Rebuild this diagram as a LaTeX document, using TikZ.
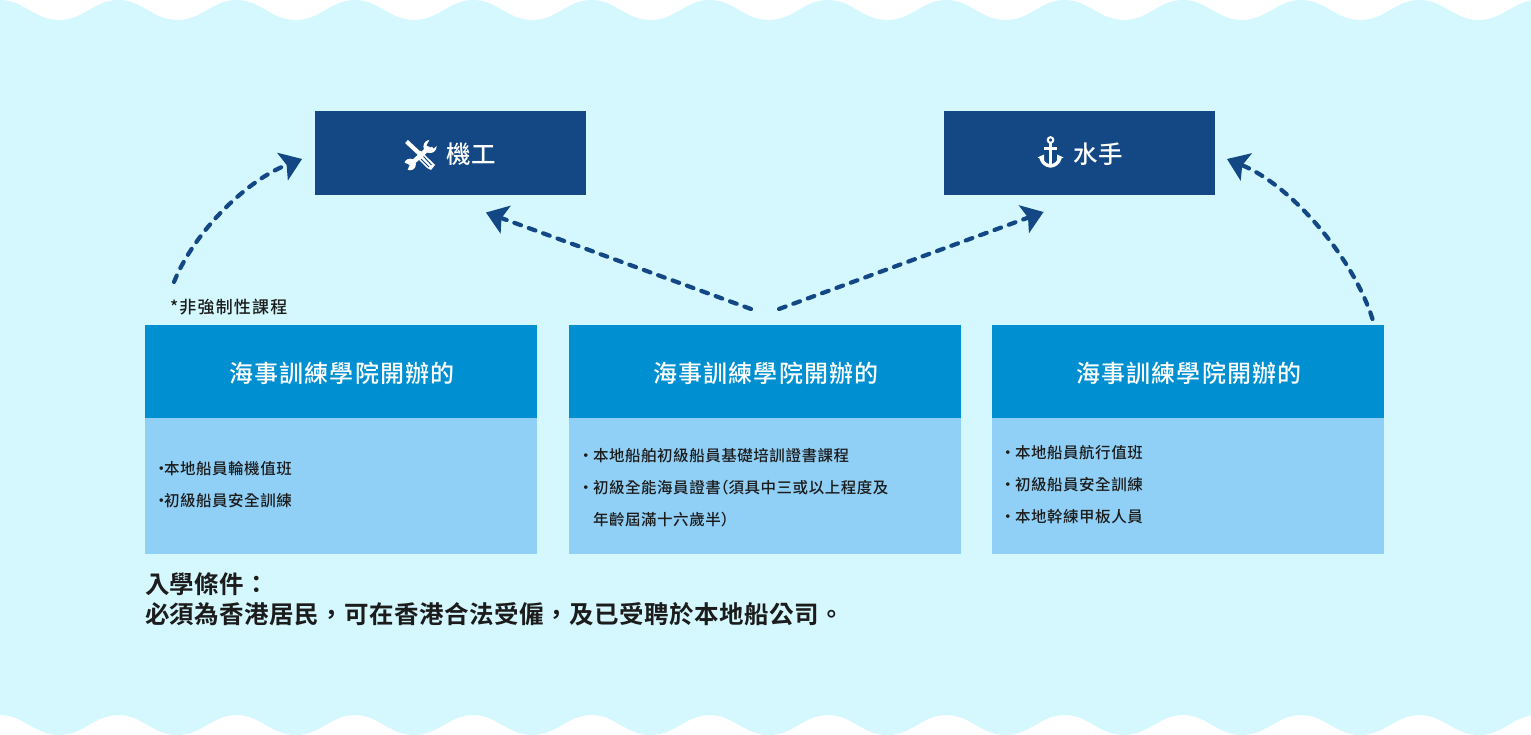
\documentclass[tikz,border=0pt]{standalone}
\usepackage{fontspec}
\usetikzlibrary{arrows.meta}
\setmainfont{Noto Sans CJK TC}
\newfontfamily\cjkb[LetterSpace=4.3]{Noto Sans CJK TC Medium}
\newfontfamily\cjkreq[LetterSpace=2]{Noto Sans CJK TC Bold}
\newfontfamily\cjkm[LetterSpace=3.5]{Noto Sans CJK TC Medium}
\newfontfamily\cjknote[LetterSpace=7]{Noto Sans CJK TC Medium}
\newfontfamily\cjkrole{Noto Sans CJK TC Medium}
\newcommand{\halfparen}[1]{{\addfontfeatures{RawFeature=+halt}#1}}
\newcommand{\dotA}{\makebox[7pt][l]{\hspace{-3.5pt}·}}
\newcommand{\dotB}{\makebox[13pt][l]{\hspace{-2pt}·}}
\newcommand{\headtext}{\raisebox{-11pt}[0pt][0pt]{\hspace{2pt}海事訓練學院開辦的}}
\definecolor{sea}{HTML}{D4F8FE}
\definecolor{navy}{HTML}{134885}
\definecolor{midblue}{HTML}{0090D2}
\definecolor{paleblue}{HTML}{91D0F6}
\definecolor{ink}{HTML}{1C1C1C}
\tikzset{
  x=1pt,y=-1pt,
  every node/.style={inner sep=0pt,outer sep=0pt},
  rolebox/.style={fill=navy,text=white,minimum width=271pt,minimum height=84pt,anchor=north west},
  headbox/.style={fill=midblue,text=white,minimum width=392pt,minimum height=93pt,anchor=north west,font=\fontsize{24}{24}\cjkb},
  bodybox/.style={fill=paleblue,minimum width=392pt,minimum height=136pt,anchor=north west},
  listtext/.style={anchor=west,align=left,text=ink,font=\fontsize{15.5}{32}\cjkm},
  flow/.style={draw=navy,line width=4.2pt,dash pattern=on 7pt off 8.3pt,line cap=round,
    -{Stealth[length=21pt,width=30pt,inset=4.5pt,fill=navy,line width=0pt]}},
  iconpart/.style={draw=white,line cap=butt},
}
\begin{document}
\begin{tikzpicture}
\useasboundingbox (0,0) rectangle (1531,735);
\fill[white] (0,0) rectangle (1531,735);
% wavy sheet
\fill[sea] (0,0)
  \foreach \k in {0,...,12}{
    .. controls ({\k*118.3+24},0) and ({\k*118.3+34},20) .. ({\k*118.3+59.15},20)
    .. controls ({\k*118.3+84},20) and ({\k*118.3+94},0) .. ({\k*118.3+118.3},0)
  }
  -- (1537,715)
  \foreach \k in {12,11,...,0}{
    .. controls ({\k*118.3+94},715) and ({\k*118.3+84},735) .. ({\k*118.3+59.15},735)
    .. controls ({\k*118.3+34},735) and ({\k*118.3+24},715) .. ({\k*118.3},715)
  }
  -- cycle;

% top role boxes
\node[rolebox] (engine) at (315,111) {};
\node[rolebox] (deck) at (944,111) {};
\node[anchor=center,text=white,font=\fontsize{24.5}{24.5}\cjkrole] (enginelabel) at (471,154) {機工};
\node[anchor=center,text=white,font=\fontsize{24.5}{24.5}\cjkrole] (decklabel) at (1098,154) {水手};

% spanner and fork icon
\begin{scope}
  \draw[iconpart,line width=4.6pt] (410,165) -- (431,146);
  \fill[white] (430,146.5) circle (6.6pt);
  \fill[navy] (436.5,140) -- (431,145) -- (433.5,148.5) -- (439,144) -- cycle;
  \fill[navy] (430,139) -- (426.5,145.5) -- (431,147.5) -- (436.5,141) -- cycle;
  \fill[white] (410,164.5) circle (5.8pt);
  \fill[navy] (403,162) -- (409.5,165) -- (407,171) -- (402,171) -- cycle;
  \draw[iconpart,line width=4.2pt] (406.5,141.5) -- (422,156);
  \fill[white] (420,150.5) -- (429.5,159.5) -- (435,165) -- (431,170) -- (427,168) -- (417,158) -- cycle;
  \draw[navy,line width=.9pt] (423.5,156.5) -- (431.5,165);
  \draw[navy,line width=.9pt] (421,159) -- (429,167);
\end{scope}

% anchor icon
\begin{scope}
  \draw[white,line width=2pt] (1050.5,140) circle (2.8pt);
  \fill[white] (1048.8,142.5) rectangle (1052.2,167.5);
  \fill[white] (1044,147.3) rectangle (1057,150.3);
  \draw[white,line width=3.4pt] (1041,158) .. controls (1042.5,163) and (1046,165.5) .. (1050.5,166)
     .. controls (1055,165.5) and (1058.5,163) .. (1060,158);
  \fill[white] (1037.5,157.5) -- (1044,154.5) -- (1044,160.5) -- cycle;
  \fill[white] (1063.5,157.5) -- (1057,154.5) -- (1057,160.5) -- cycle;
\end{scope}

% note above the left column
\node[anchor=west,text=ink,font=\fontsize{17}{17}\cjknote] (optional) at (170,307) {*非強制性課程};

% headers and bodies
\node[headbox] (hA) at (145,325) {\headtext};
\node[headbox] (hB) at (569,325) {\headtext};
\node[headbox] (hC) at (992,325) {\headtext};
\node[bodybox] (bA) at (145,418) {};
\node[bodybox] (bB) at (569,418) {};
\node[bodybox] (bC) at (992,418) {};

\node[listtext] (lA) at (157,485) {\dotA 本地船員輪機值班\\\dotA 初級船員安全訓練};
\node[listtext] (lB) at (580,487.5) {\dotB 本地船舶初級船員基礎培訓證書課程\\\dotB 初級全能海員證書\halfparen{^^^^ff08}須具中三或以上程度及\\\makebox[13pt][l]{}年齡屆滿十六歲半\halfparen{^^^^ff09}};
\node[listtext] (lC) at (1002,484.7) {\dotB 本地船員航行值班\\\dotB 初級船員安全訓練\\\dotB 本地幹練甲板人員};

% entry requirement
\node[anchor=west,text=ink,font=\fontsize{24.5}{24.5}\cjkreq] (reqA) at (145,584) {入學條件^^^^ff1a};
\node[anchor=west,text=ink,font=\fontsize{24.5}{24.5}\cjkreq] (reqB) at (145,614) {必須為香港居民^^^^ff0c可在香港合法受僱^^^^ff0c及已受聘於本地船公司。};

% connectors
\coordinate (s1) at (174,282);
\coordinate (e1) at (302,159);
\coordinate (s2) at (751,309);
\coordinate (e2) at (486,212.5);
\coordinate (s3) at (779,309);
\coordinate (e3) at (1043.5,212);
\coordinate (s4) at (1372.5,319);
\coordinate (e4) at (1227,159);
\draw[flow] (s1) .. controls (195,230) and (248,180) .. (e1);
\draw[flow] (s2) -- (e2);
\draw[flow] (s3) -- (e3);
\draw[flow] (s4) .. controls (1352,255) and (1290,185) .. (e4);
\end{tikzpicture}
\end{document}
